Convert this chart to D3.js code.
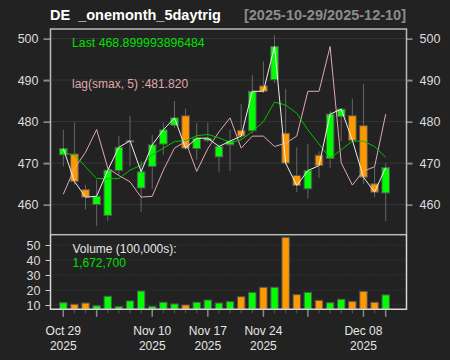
<!DOCTYPE html>
<html><head><meta charset="utf-8">
<script src="https://cdn.jsdelivr.net/npm/d3@7/dist/d3.min.js"></script>
<style>
html,body{margin:0;padding:0;background:#222222;}
svg{display:block;font-family:"Liberation Sans",Arial,Helvetica,sans-serif;}
</style></head>
<body>
<svg id="c" width="450" height="360"></svg>
<script>
const dates = ["2025-10-29","2025-10-30","2025-10-31","2025-11-03","2025-11-04","2025-11-05","2025-11-06","2025-11-07",
"2025-11-10","2025-11-11","2025-11-12","2025-11-13","2025-11-14","2025-11-17","2025-11-18","2025-11-19","2025-11-20","2025-11-21",
"2025-11-24","2025-11-25","2025-11-26","2025-11-28","2025-12-01","2025-12-02","2025-12-03","2025-12-04","2025-12-05",
"2025-12-08","2025-12-09","2025-12-10"];
const opens  = [472.0,472.2,463.6,460.0,457.4,468.2,475.1,464.0,469.2,474.6,479.1,481.4,473.5,475.4,471.5,474.4,477.9,477.8,488.6,490.1,477.2,467.0,463.8,471.9,471.1,481.2,481.4,479.0,465.0,462.8];
const highs  = [478.0,479.8,464.8,466.0,468.8,476.5,481.4,470.5,476.8,479.7,485.0,483.1,479.7,479.8,474.5,478.0,484.2,491.2,494.5,500.8,487.9,473.8,474.6,472.8,482.5,483.3,485.5,489.1,469.0,470.0];
const lows   = [469.2,464.8,458.8,454.8,456.1,467.2,469.2,458.2,463.8,472.0,478.5,473.2,470.8,475.0,467.9,468.1,475.6,477.2,486.9,489.3,469.6,463.0,461.4,466.4,468.8,475.3,475.3,465.0,461.8,456.0];
const closes = [473.5,465.6,461.8,462.0,468.3,473.8,475.4,467.9,474.4,478.0,480.9,473.6,476.0,476.0,474.0,475.3,476.5,487.3,487.3,498.1,470.0,464.6,468.2,469.4,481.8,483.0,475.5,466.6,463.0,468.9];
const volumes = [11.5,10.5,11.3,9.5,15.8,8.9,12.7,19.3,9.1,11.8,10.7,10.0,11.8,13.3,11.3,12.2,15.5,18.4,21.8,21.8,55.1,16.9,18.4,13.1,11.5,13.8,12.4,19.1,11.8,16.727];
const smaLine = [472.4,472.0,469.1,466.3,466.2,466.3,468.3,469.5,472.0,473.6,475.2,475.4,476.6,476.9,476.1,475.0,475.6,477.6,480.0,484.7,484.0,482.0,478.0,474.6,471.2,473.2,475.3,475.3,474.0,471.4];
const lagSmax = [462.5,468.7,472.6,478.1,468.8,467.0,465.5,461.8,462.0,468.3,473.6,475.2,468.0,473.5,477.5,480.9,473.6,476.5,476.5,474.0,474.8,476.5,487.3,487.3,498.1,470.1,464.7,468.1,469.1,481.8];
const priceTicks = [460,470,480,490,500];
const volTicks = [10,20,30,40,50];
const xLabels = [{i:0,t:"Oct 29"},{i:8,t:"Nov 10"},{i:13,t:"Nov 17"},{i:18,t:"Nov 24"},{i:27,t:"Dec 08"}];
const majorIdx = [0,3,8,13,18,22,27,29];
const title = "DE  _onemonth_5daytrig";
const range = "[2025-10-29/2025-12-10]";
const lastText = "Last 468.899993896484";
const lagText = "lag(smax, 5) :481.820";
const volTitle = "Volume (100,000s):";
const volLast = "1,672,700";

const UP="#00ff00", DN="#ff9900";
const L=50.5, R=406.5, T=29, M=234.7, B=309.3;
const svg = d3.select("#c");
svg.append("rect").attr("width",450).attr("height",360).attr("fill","#222222");

const x = d3.scaleLinear().domain([0,29]).range([63.3,385.7]);
const y = d3.scaleLinear().domain([460,500]).range([204.6,38.6]);
const yv = d3.scaleLinear().domain([10,50]).range([305,245]);

// grid main
svg.append("g").selectAll("line").data(priceTicks).join("line")
  .attr("x1",L).attr("x2",R).attr("y1",d=>y(d)).attr("y2",d=>y(d))
  .attr("stroke","#353535").attr("stroke-width",1);
// grid volume (dotted)
svg.append("g").selectAll("line").data(volTicks).join("line")
  .attr("x1",L).attr("x2",R).attr("y1",d=>yv(d)).attr("y2",d=>yv(d))
  .attr("stroke","#3c3c3c").attr("stroke-dasharray","1,2");

const idx = d3.range(dates.length);
// wicks
svg.append("g").selectAll("line").data(idx).join("line")
  .attr("x1",i=>x(i)).attr("x2",i=>x(i)).attr("y1",i=>y(highs[i])).attr("y2",i=>y(lows[i]))
  .attr("stroke","#666666").attr("stroke-width",1);
// bodies
const bw=7.6;
svg.append("g").selectAll("rect").data(idx).join("rect")
  .attr("x",i=>x(i)-bw/2).attr("width",bw)
  .attr("y",i=>y(Math.max(opens[i],closes[i])))
  .attr("height",i=>Math.max(1.2,Math.abs(y(opens[i])-y(closes[i]))))
  .attr("fill",i=>closes[i]>=opens[i]?UP:DN)
  .attr("stroke","#555555").attr("stroke-width",1);

// lines
const line = arr => d3.line().x((d,i)=>x(i)).y(d=>y(d))(arr);
svg.append("path").attr("d",line(lagSmax)).attr("fill","none").attr("stroke","#e0a8b0").attr("stroke-width",1);
svg.append("path").attr("d",line(smaLine)).attr("fill","none").attr("stroke","#00c000").attr("stroke-width",1);
svg.append("path").attr("d",line(closes)).attr("fill","none").attr("stroke","#eeeeee").attr("stroke-width",1);

// volume bars
const vw=7.4;
svg.append("g").selectAll("rect").data(idx).join("rect")
  .attr("x",i=>x(i)-vw/2).attr("width",vw)
  .attr("y",i=>yv(volumes[i])).attr("height",i=>B-yv(volumes[i]))
  .attr("fill",i=>closes[i]>=opens[i]?UP:DN)
  .attr("stroke","#555555").attr("stroke-width",1);

// frames
const fr = svg.append("g").attr("fill","none").attr("stroke","#d8d8d8").attr("stroke-width",1.5);
fr.append("rect").attr("x",L).attr("y",T).attr("width",R-L).attr("height",M-T).attr("stroke","#bbbbbb");
fr.append("path").attr("d",`M${L},${M}V${B}H${R}V${M}`);

// price axes
const axL = svg.append("g").attr("transform",`translate(${L},0)`).call(d3.axisLeft(y).tickValues(priceTicks).tickSize(7).tickPadding(5).tickFormat(d3.format("d")));
const axR = svg.append("g").attr("transform",`translate(${R},0)`).call(d3.axisRight(y).tickValues(priceTicks).tickSize(6).tickPadding(7).tickFormat(d3.format("d")));
[axL,axR].forEach(a=>{
  a.select(".domain").remove();
  a.selectAll(".tick line").attr("stroke",d=>(d%20===10)?"#8a8a8a":"#cccccc").attr("stroke-width",d=>(d%20===10)?2:1);
  a.selectAll(".tick text").attr("fill","#dddddd").attr("font-size",12.5).attr("font-family","Liberation Sans, Arial, sans-serif");
});
const axV = svg.append("g").attr("transform",`translate(${L},0)`).call(d3.axisLeft(yv).tickValues(volTicks).tickSize(5).tickPadding(5).tickFormat(d3.format("d")));
axV.select(".domain").remove();
axV.selectAll(".tick line").attr("stroke","#cccccc");
axV.selectAll(".tick text").attr("fill","#dddddd").attr("font-size",12.5).attr("font-family","Liberation Sans, Arial, sans-serif");

// x ticks
svg.append("g").selectAll("line").data(idx).join("line")
  .attr("x1",i=>x(i)).attr("x2",i=>x(i)).attr("y1",B+0.8)
  .attr("y2",i=>majorIdx.includes(i)?B+7.5:B+4)
  .attr("stroke",i=>majorIdx.includes(i)?"#8a8a8a":"#5a5a5a").attr("stroke-width",i=>majorIdx.includes(i)?1.5:1);
const xl = svg.append("g").attr("fill","#e6e6e6").attr("font-size",12).attr("text-anchor","middle");
xLabels.forEach(d=>{
  xl.append("text").attr("x",x(d.i)).attr("y",335).text(d.t);
  xl.append("text").attr("x",x(d.i)).attr("y",349.5).text(dates[d.i].slice(0,4));
});

// titles
svg.append("text").attr("x",50).attr("y",20).attr("fill","#ffffff").attr("font-size",14.5).attr("font-weight","bold").style("white-space","pre").text(title);
svg.append("text").attr("x",406).attr("y",20).attr("text-anchor","end").attr("fill","#8c8c8c").attr("font-size",14.5).attr("font-weight","bold").text(range);
svg.append("text").attr("x",72).attr("y",47).attr("fill","#00e000").attr("font-size",12.3).text(lastText);
svg.append("text").attr("x",72).attr("y",88).attr("fill","#e0a8b0").attr("font-size",12).text(lagText);
svg.append("text").attr("x",72.5).attr("y",252.5).attr("fill","#e6e6e6").attr("font-size",12).text(volTitle);
svg.append("text").attr("x",72.5).attr("y",266.5).attr("fill","#00e000").attr("font-size",12).text(volLast);
</script>
</body></html>
